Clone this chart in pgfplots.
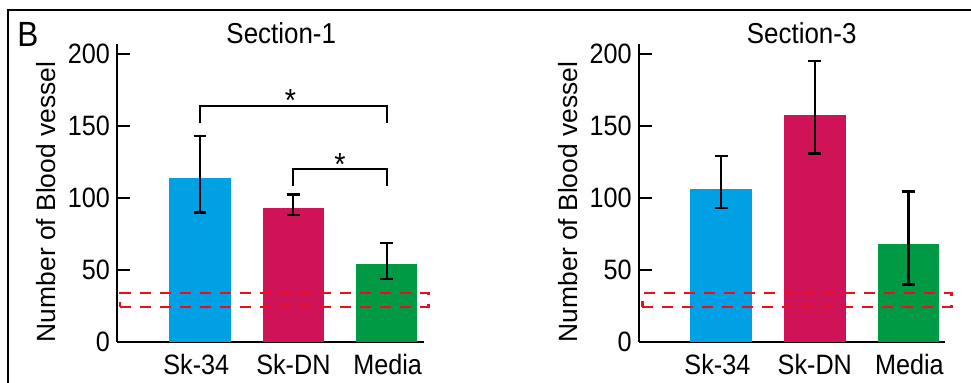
\documentclass[border=0pt]{standalone}
\usepackage{pgfplots}
\pgfplotsset{compat=1.18}
\usepackage{fontspec}
\setmainfont{Liberation Sans}[FakeStretch=0.9]
\newfontfamily\ylabfont{Liberation Sans}
\definecolor{cblue}{RGB}{0,160,228}
\definecolor{cmag}{RGB}{208,18,88}
\definecolor{cgreen}{RGB}{0,153,68}
\definecolor{cred}{RGB}{232,16,30}
\pgfplotsset{
  panel/.style={
    scale only axis, height=149pt,
    ymin=0, ymax=207, clip=false,
    axis x line*=bottom, axis y line*=left,
    axis line style={-, line width=1pt, black},
    ytick={0,50,100,150,200},
    tick align=inside, major tick length=6.5pt,
    ytick style={line width=1pt, black},
    xtick={0,1,2}, xticklabels={},
    xtick style={draw=none},
    /pgf/number format/assume math mode=true,
    yticklabel style={font=\fontsize{14}{16}\selectfont},
    ylabel={Number of Blood vessel},
    ylabel style={font=\ylabfont\fontsize{13.2}{15}\selectfont, at={(axis description cs:-0.232,0.47)}, anchor=center, rotate=0},
    ybar, bar width=0.66, bar shift=0pt,
  },
  eb/.style={error bars/.cd, y dir=both, y explicit,
    error bar style={line width=1.1pt, draw=black},
    error mark options={rotate=90, line width=1.1pt, draw=black, mark size=3.2pt}},
  dashbox/.style={sharp plot, draw=cred, line width=1.2pt, dash pattern=on 5.5pt off 4.5pt, forget plot},
}
\tikzset{
  xlab/.style={anchor=base, yshift=-16.5pt, inner sep=0pt, font=\fontsize{14}{16}\selectfont},
  ttl/.style={anchor=base, yshift=5.35pt, inner sep=0pt, font=\fontsize{14.4}{16}\selectfont},
  star/.style={font=\fontsize{16}{16}\selectfont, anchor=south, inner sep=1pt, yshift=-4.25pt},
}
\begin{document}
\begin{tikzpicture}
\useasboundingbox (0,0) rectangle (485.5pt,191.5pt);
\draw[line width=1pt, black] (4pt,0) -- (4pt,186.5pt) -- (486pt,186.5pt);
\node[anchor=base west, inner sep=0pt, font=\fontsize{17.5}{20}\selectfont] at (8.5pt,168pt) {B};
% left panel
\begin{axis}[panel, at={(58.5pt,20.5pt)}, anchor=south west, width=153.5pt,
  xmin=-0.89, xmax=2.40]
\addplot[fill=cblue, draw=none, eb] coordinates {(0,114) += (0,29) -= (0,24)};
\addplot[fill=cmag, draw=none, eb] coordinates {(1,93) += (0,9.5) -= (0,5)};
\addplot[fill=cgreen, draw=none, eb] coordinates {(2,54) += (0,15) -= (0,10)};
\addplot[dashbox] coordinates {(-0.856,24.5) (2.45,24.5) (2.45,34.2) (-0.856,34.2) (-0.856,24.5)};
\addplot[sharp plot, black, line width=1pt, forget plot] coordinates {(0,152) (0,164) (2,164) (2,152)};
\addplot[sharp plot, black, line width=1pt, forget plot] coordinates {(1,108.5) (1,120) (2,120) (2,108.5)};
\node[star] at (axis cs:0.97,164) {*};
\node[star] at (axis cs:1.5,120) {*};
\node[xlab] at (axis cs:-0.04,0) {Sk-34};
\node[xlab] at (axis cs:1,0) {Sk-DN};
\node[xlab] at (axis cs:2.01,0) {Media};
\node[ttl] at (axis cs:0.87,200) {Section-1};
\end{axis}
% right panel
\begin{axis}[panel, at={(319.35pt,20.5pt)}, anchor=south west, width=153.15pt,
  xmin=-0.88, xmax=2.39]
\addplot[fill=cblue, draw=none, eb] coordinates {(0,106) += (0,23) -= (0,13)};
\addplot[fill=cmag, draw=none, eb] coordinates {(1,158) += (0,37) -= (0,27)};
\addplot[fill=cgreen, draw=none, eb] coordinates {(2,68) += (0,36.6) -= (0,28)};
\addplot[dashbox] coordinates {(-0.84,24.5) (2.46,24.5) (2.46,34.2) (-0.84,34.2) (-0.84,24.5)};
\node[xlab] at (axis cs:-0.04,0) {Sk-34};
\node[xlab] at (axis cs:1,0) {Sk-DN};
\node[xlab] at (axis cs:2.01,0) {Media};
\node[ttl] at (axis cs:0.86,200) {Section-3};
\end{axis}
\end{tikzpicture}
\end{document}
